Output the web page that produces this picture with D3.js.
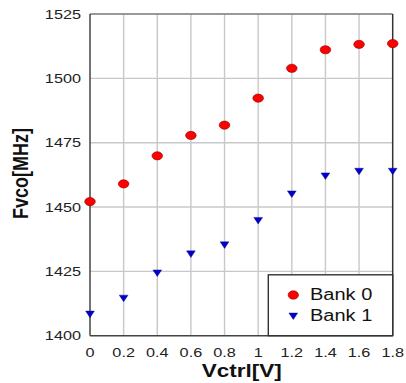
<!DOCTYPE html>
<html><head><meta charset="utf-8">
<script src="https://cdn.jsdelivr.net/npm/d3@7"></script>
<style>html,body{margin:0;padding:0;background:#fff;}svg{display:block;}</style>
</head><body>
<script>
const vctrl = [0, 0.2, 0.4, 0.6, 0.8, 1.0, 1.2, 1.4, 1.6, 1.8];
const bank0 = [1452.1, 1459.0, 1469.9, 1477.8, 1481.8, 1492.3, 1503.9, 1511.1, 1513.2, 1513.5];
const bank1 = [1408.4, 1414.6, 1424.4, 1431.8, 1435.3, 1444.8, 1455.1, 1462.1, 1463.9, 1463.9];
const xTicks = [0, 0.2, 0.4, 0.6, 0.8, 1, 1.2, 1.4, 1.6, 1.8];
const yTicks = [1400, 1425, 1450, 1475, 1500, 1525];
const seriesNames = ["Bank 0", "Bank 1"];

const W = 406, H = 383;
const L = 90, R = 392.7, T = 14, B = 335.7;
const SX = 1.25;

const svg = d3.select("body").append("svg").attr("width", W).attr("height", H);
const x = d3.scaleLinear().domain([0, 1.8]).range([L, R]);
const y = d3.scaleLinear().domain([1400, 1525]).range([B, T]);

// grid
const g = svg.append("g");
g.selectAll("line.vg").data(xTicks.slice(1, -1)).join("line")
  .attr("x1", d => x(d)).attr("x2", d => x(d)).attr("y1", T).attr("y2", B)
  .attr("stroke", "#c8c8c8").attr("stroke-width", 1.4);
g.selectAll("line.hg").data(yTicks.slice(1, -1)).join("line")
  .attr("x1", L).attr("x2", R).attr("y1", d => y(d)).attr("y2", d => y(d))
  .attr("stroke", "#c8c8c8").attr("stroke-width", 1.4);

// frame
svg.append("line").attr("x1", L).attr("x2", R).attr("y1", T).attr("y2", T).attr("stroke", "#777").attr("stroke-width", 1.4);
svg.append("line").attr("x1", R).attr("x2", R).attr("y1", T).attr("y2", B).attr("stroke", "#333").attr("stroke-width", 1.5);
svg.append("line").attr("x1", L).attr("x2", L).attr("y1", T).attr("y2", B).attr("stroke", "#444").attr("stroke-width", 1.5);
svg.append("line").attr("x1", L).attr("x2", R).attr("y1", B).attr("y2", B).attr("stroke", "#444").attr("stroke-width", 1.5);

// tick labels
const font = "Liberation Sans, Arial, sans-serif";
svg.selectAll("text.yt").data(yTicks).join("text")
  .attr("transform", d => `translate(81,${y(d) + 4.6}) scale(${SX},1)`)
  .attr("text-anchor", "end").attr("font-family", font).attr("font-size", 13)
  .attr("fill", "#222").text(d => d);
svg.selectAll("text.xt").data(xTicks).join("text")
  .attr("transform", d => `translate(${x(d)},357) scale(${SX},1)`)
  .attr("text-anchor", "middle").attr("font-family", font).attr("font-size", 13)
  .attr("fill", "#222").text(d => d);

// axis titles
svg.append("text").attr("transform", `translate(241.7,377) scale(${SX},1)`)
  .attr("text-anchor", "middle").attr("font-family", font).attr("font-size", 18)
  .attr("font-weight", "bold").attr("fill", "#111").text("Vctrl[V]");
svg.append("text").attr("transform", `translate(28,173.5) rotate(-90) scale(1,${SX})`)
  .attr("text-anchor", "middle").attr("font-family", font).attr("font-size", 18)
  .attr("font-weight", "bold").attr("fill", "#111").text("Fvco[MHz]");

// markers
const tri = "M-4.4,-3L4.4,-3L0,3.6Z";
svg.selectAll("ellipse.b0").data(vctrl).join("ellipse")
  .attr("cx", (d) => x(d)).attr("cy", (d, i) => y(bank0[i]))
  .attr("rx", 5.3).attr("ry", 4.1).attr("fill", "#ff0000").attr("stroke", "#8a0000").attr("stroke-width", 0.6);
svg.selectAll("path.b1").data(vctrl).join("path")
  .attr("transform", (d, i) => `translate(${x(d)},${y(bank1[i])})`)
  .attr("d", tri).attr("fill", "#0000cc").attr("stroke", "#000080").attr("stroke-width", 0.4);

// legend
const lg = svg.append("g");
lg.append("rect").attr("x", 268.3).attr("y", 274.8).attr("width", R - 268.3).attr("height", B - 274.8)
  .attr("fill", "#fff").attr("stroke", "#333").attr("stroke-width", 1.4);
lg.append("ellipse").attr("cx", 293.3).attr("cy", 295).attr("rx", 5.2).attr("ry", 4.2)
  .attr("fill", "#ff0000").attr("stroke", "#8a0000").attr("stroke-width", 0.6);
lg.append("path").attr("transform", "translate(293.3,316)").attr("d", tri)
  .attr("fill", "#0000cc").attr("stroke", "#000080").attr("stroke-width", 0.4);
lg.selectAll("text.lt").data(seriesNames).join("text")
  .attr("transform", (d, i) => `translate(310,${300 + i * 20.5}) scale(${SX},1)`)
  .attr("font-family", font).attr("font-size", 16).attr("fill", "#111").text(d => d);
</script>
</body></html>
